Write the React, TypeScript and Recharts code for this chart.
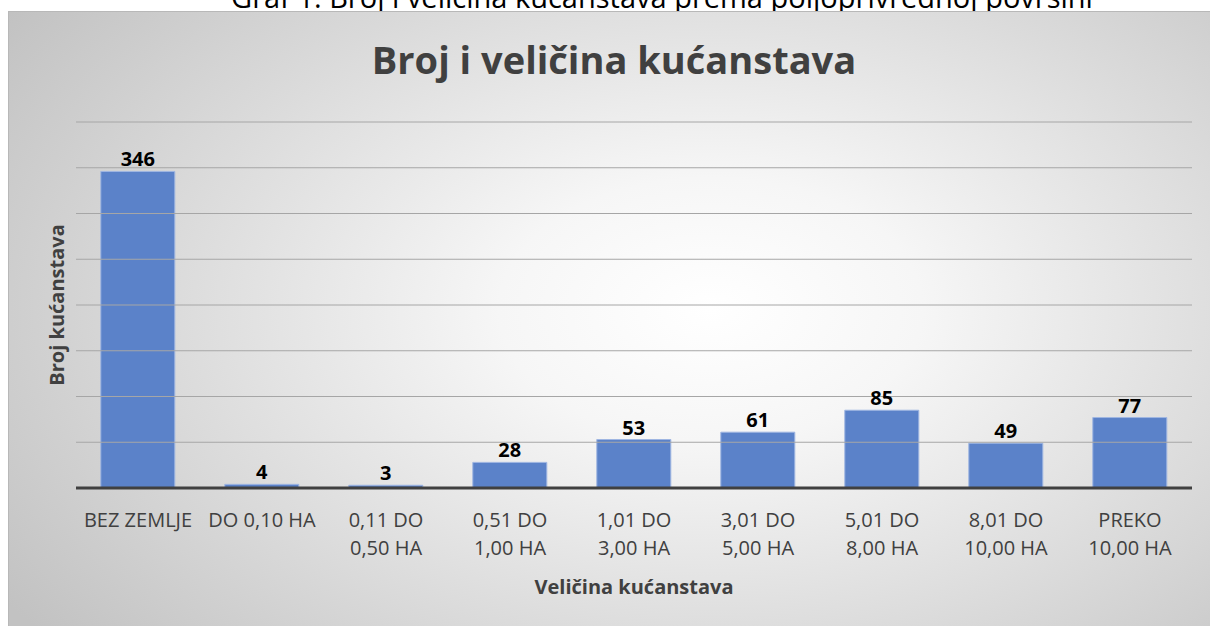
import { BarChart, Bar, XAxis, YAxis, ReferenceLine, LabelList, Label } from "recharts";

const categories = [
  "BEZ ZEMLJE",
  "DO 0,10 HA",
  "0,11 DO\n0,50 HA",
  "0,51 DO\n1,00 HA",
  "1,01 DO\n3,00 HA",
  "3,01 DO\n5,00 HA",
  "5,01 DO\n8,00 HA",
  "8,01 DO\n10,00 HA",
  "PREKO\n10,00 HA",
];
const households = [346, 4, 3, 28, 53, 61, 85, 49, 77];
const yTicks = [0, 50, 100, 150, 200, 250, 300, 350, 400];

const data = categories.map((name, i) => ({ name, value: households[i] }));

const FONT = "'Open Sans', 'Noto Sans', sans-serif";

function CategoryTick(props: any) {
  const { x, y, payload } = props;
  const lines = String(payload.value).split("\n");
  return (
    <text x={x} y={y} textAnchor="middle" fill="#404040" fontSize={20} fontFamily={FONT}>
      {lines.map((line, i) => (
        <tspan key={i} x={x} dy={i === 0 ? 39 : 28}>
          {line}
        </tspan>
      ))}
    </text>
  );
}

export default function App() {
  return (
    <div
      style={{
        position: "absolute",
        left: 0,
        top: 0,
        width: 1210,
        height: 626,
        overflow: "hidden",
        background: "#fff",
        fontFamily: FONT,
      }}
    >
      <div
        style={{
          position: "absolute",
          left: 162,
          top: -18,
          width: 1000,
          textAlign: "center",
          fontSize: 29,
          lineHeight: "29px",
          color: "#000",
          whiteSpace: "nowrap",
        }}
      >
        Graf 1. Broj i veličina kućanstava prema poljoprivrednoj površini
      </div>
      <div
        style={{
          position: "absolute",
          left: 8,
          top: 11,
          width: 1210,
          height: 620,
          borderTop: "1px solid #b8b8b8",
          borderLeft: "1px solid #b8b8b8",
          background:
            "radial-gradient(ellipse 70% 85% at 58% 48%, #ffffff 0%, #f6f6f6 25%, #c2c2c2 100%)",
        }}
      >
        <div style={{ position: "absolute", left: 0, top: 0 }}>
          <BarChart
            width={1201}
            height={614}
            data={data}
            margin={{ top: 110, right: 18, left: 29, bottom: 0 }}
            barCategoryGap="20%"
          >
            <YAxis
              domain={[0, 400]}
              ticks={yTicks}
              tick={false}
              axisLine={false}
              tickLine={false}
              width={38}
            >
              <Label
                value="Broj kućanstava"
                angle={-90}
                position="center"
                fill="#404040"
                fontSize={20}
                fontWeight="bold"
                fontFamily={FONT}
              />
            </YAxis>
            <XAxis
              dataKey="name"
              interval={0}
              height={138}
              tick={<CategoryTick />}
              tickLine={false}
              tickSize={0}
              tickMargin={0}
              axisLine={{ stroke: "#404040", strokeWidth: 3 }}
            >
              <Label
                value="Veličina kućanstava"
                position="insideBottom"
                offset={32}
                fill="#404040"
                fontSize={20}
                fontWeight="bold"
                fontFamily={FONT}
              />
            </XAxis>
            {yTicks
              .filter((t) => t > 0)
              .map((t) => (
                <ReferenceLine key={t} y={t} stroke="#a6a6a6" strokeWidth={1} />
              ))}
            <Bar
              dataKey="value"
              fill="#5B82C9"
              stroke="#9fb6e2"
              strokeWidth={1}
              isAnimationActive={false}
            >
              <LabelList
                dataKey="value"
                position="top"
                offset={5}
                fill="#000"
                fontSize={20}
                fontWeight="bold"
                fontFamily={FONT}
              />
            </Bar>
          </BarChart>
        </div>
      </div>
      <div
        style={{
          position: "absolute",
          left: 214,
          top: 40,
          width: 800,
          textAlign: "center",
          fontSize: 38,
          lineHeight: "38px",
          fontWeight: "bold",
          color: "#404040",
          whiteSpace: "nowrap",
        }}
      >
        Broj i veličina kućanstava
      </div>
    </div>
  );
}
